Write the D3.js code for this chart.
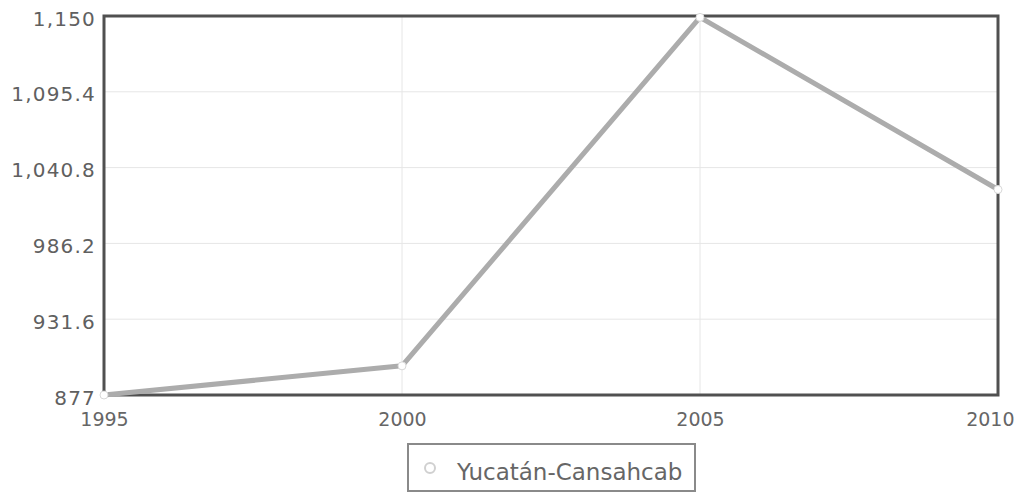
<!DOCTYPE html>
<html><head><meta charset="utf-8">
<script src="https://cdn.jsdelivr.net/npm/d3@7"></script>
<style>body{margin:0;background:#fff}svg{display:block}</style>
</head><body>
<svg id="c" width="1020" height="494"></svg>
<script>
const years = [1995, 2000, 2005, 2010];
const values = [877, 898, 1149, 1025];
const yTicks = [877, 931.6, 986.2, 1040.8, 1095.4, 1150];
const seriesName = "Yucatán-Cansahcab";

const svg = d3.select("#c");
const L = 104, R = 998, T = 16, B = 395;
const x = d3.scaleLinear().domain([1995, 2010]).range([L, R]);
const y = d3.scaleLinear().domain([877, 1150]).range([B, T]);
const font = "DejaVu Sans, Verdana, sans-serif";

// grid
svg.append("g").selectAll("line.h").data(yTicks).join("line")
  .attr("x1", L).attr("x2", R).attr("y1", d => y(d)).attr("y2", d => y(d))
  .attr("stroke", "#e6e6e6").attr("stroke-width", 1);
svg.append("g").selectAll("line.v").data(years).join("line")
  .attr("y1", T).attr("y2", B).attr("x1", d => x(d)).attr("x2", d => x(d))
  .attr("stroke", "#e6e6e6").attr("stroke-width", 1);

// axes
const yAxis = svg.append("g").attr("transform", `translate(${L},0)`)
  .call(d3.axisLeft(y).tickValues(yTicks).tickSize(0).tickPadding(8)
    .tickFormat(d => d3.format(",")(d)));
yAxis.select(".domain").remove();
yAxis.selectAll("text").attr("font-family", font).attr("font-size", 20)
  .attr("fill", "#606060").attr("letter-spacing", 1.2).attr("dy", "0.45em");

const xAxis = svg.append("g").attr("transform", `translate(0,${B})`)
  .call(d3.axisBottom(x).tickValues(years).tickSize(0).tickPadding(18)
    .tickFormat(d3.format("d")));
xAxis.select(".domain").remove();
xAxis.selectAll("text").attr("font-family", font).attr("font-size", 19)
  .attr("fill", "#666");
xAxis.selectAll(".tick").filter(d => d === 2010).select("text")
  .attr("text-anchor", "end").attr("x", 1014 - x(2010));

// frame
svg.append("rect").attr("x", L).attr("y", T).attr("width", R - L).attr("height", B - T)
  .attr("fill", "none").attr("stroke", "#505050").attr("stroke-width", 3);

// line
const line = d3.line().x((d, i) => x(years[i])).y(d => y(d));
svg.append("path").datum(values).attr("d", line)
  .attr("fill", "none").attr("stroke", "#acacac").attr("stroke-width", 5)
  .attr("stroke-linejoin", "round");
svg.append("g").selectAll("circle").data(values).join("circle")
  .attr("cx", (d, i) => x(years[i])).attr("cy", d => y(d)).attr("r", 4)
  .attr("fill", "#fff").attr("stroke", "#d8d8d8").attr("stroke-width", 1);

// legend
const lg = svg.append("g");
lg.append("rect").attr("x", 408).attr("y", 444).attr("width", 287).attr("height", 47)
  .attr("fill", "#fff").attr("stroke", "#8a8a8a").attr("stroke-width", 2);
lg.append("circle").attr("cx", 430).attr("cy", 468).attr("r", 5)
  .attr("fill", "#fff").attr("stroke", "#d0d0d0").attr("stroke-width", 2);
lg.append("text").attr("x", 457).attr("y", 480).text(seriesName)
  .attr("font-family", font).attr("font-size", 23).attr("fill", "#666");
</script>
</body></html>
